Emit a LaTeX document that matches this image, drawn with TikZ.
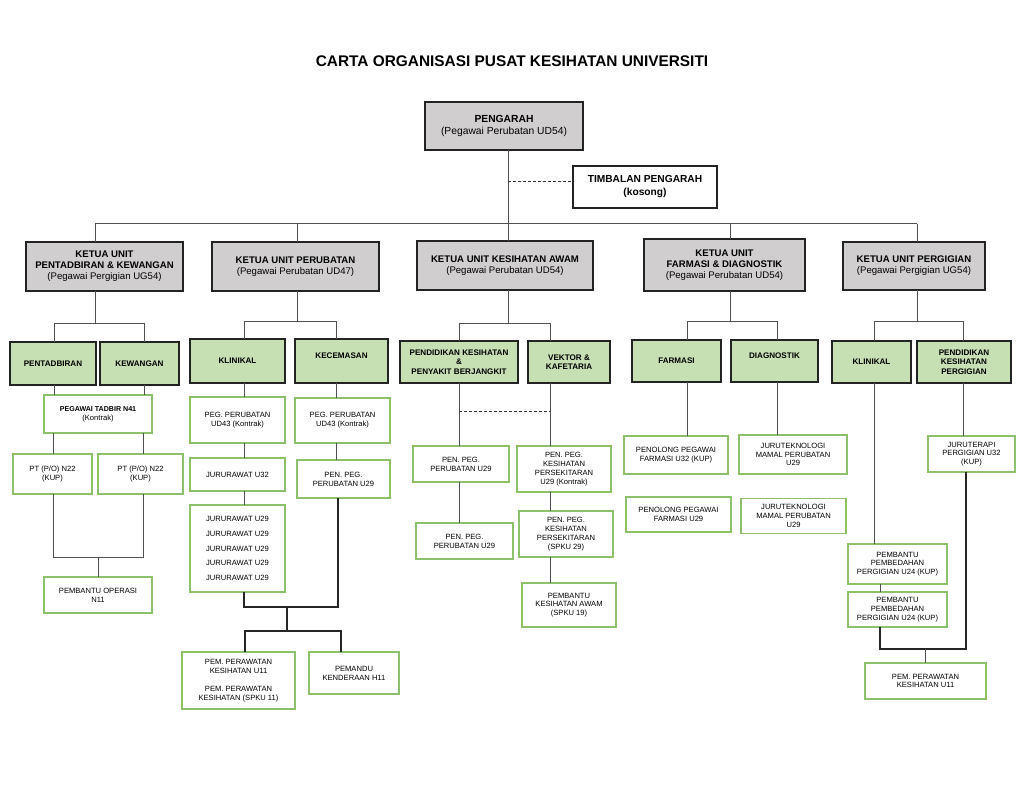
\documentclass[tikz,border=0pt]{standalone}
\usepackage{fontspec}
\setmainfont{Liberation Sans}
\usetikzlibrary{calc}
\definecolor{greyfill}{RGB}{208,206,206}
\definecolor{greenfill}{RGB}{198,224,180}
\definecolor{greenline}{RGB}{140,192,105}
\definecolor{boxline}{RGB}{35,35,35}
\definecolor{connc}{RGB}{80,80,80}
\begin{document}
\begin{tikzpicture}[x=1pt,y=-1pt,
 conn/.style={draw=connc, line width=1pt},
 connd/.style={draw=black!85, line width=1.2pt},
 dashline/.style={draw=black!80, line width=1pt, dash pattern=on 3pt off 2pt},
 base/.style={rectangle, inner sep=0pt, outer sep=0pt, align=center, text=black},
 topbox/.style={base, draw=boxline, line width=1.7pt, fill=greyfill, font=\fontsize{10.3}{12}\selectfont},
 deputybox/.style={base, draw=boxline, line width=1.6pt, fill=white, font=\fontsize{10.2}{13}\selectfont\bfseries},
 headbox/.style={base, draw=boxline, line width=1.7pt, fill=greyfill, font=\fontsize{9.6}{11}\selectfont},
 unitbox/.style={base, draw=boxline, line width=1.6pt, fill=greenfill, font=\fontsize{8.1}{9.5}\selectfont\bfseries},
 raised/.style={text depth=10pt},
 staffbox/.style={base, draw=greenline, line width=1.5pt, fill=white, font=\fontsize{7.6}{8.8}\selectfont},
 wh/.style 2 args={minimum width=#1pt, minimum height=#2pt}
]
\fill[white] (0,0) rectangle (1024,791);
\useasboundingbox (0,0) rectangle (1024,791);

% title
\node[font=\fontsize{15.4}{18}\selectfont\bfseries] (title) at (512,61.5) {CARTA ORGANISASI PUSAT KESIHATAN UNIVERSITI};

% top level
\node[topbox, wh={158}{48}] (pengarah) at (504,126) {\textbf{PENGARAH}\\(Pegawai Perubatan UD54)};
\node[deputybox, wh={144}{42}] (timbalan) at (645,187) {TIMBALAN PENGARAH\\(kosong)};

% heads of units
\node[headbox, wh={157}{49}] (k1) at (104.5,266.5) {\textbf{KETUA UNIT}\\\textbf{PENTADBIRAN \& KEWANGAN}\\(Pegawai Pergigian UG54)};
\node[headbox, wh={167}{49}] (k2) at (295.5,266.5) {\textbf{KETUA UNIT PERUBATAN}\\(Pegawai Perubatan UD47)};
\node[headbox, wh={176}{49}] (k3) at (505,265.5) {\textbf{KETUA UNIT KESIHATAN AWAM}\\(Pegawai Perubatan UD54)};
\node[headbox, wh={161}{52}] (k4) at (724.5,265) {\textbf{KETUA UNIT}\\\textbf{FARMASI \& DIAGNOSTIK}\\(Pegawai Perubatan UD54)};
\node[headbox, wh={142}{48}] (k5) at (914,266) {\textbf{KETUA UNIT PERGIGIAN}\\(Pegawai Pergigian UG54)};

% sections
\node[unitbox, wh={86}{43}] (g1) at (53,363.5) {PENTADBIRAN};
\node[unitbox, wh={79}{43}] (g2) at (139.5,363.5) {KEWANGAN};
\node[unitbox, wh={95}{44}] (g3) at (237.5,361) {KLINIKAL};
\node[unitbox, raised, wh={93}{44}] (g4) at (341.5,361) {KECEMASAN};
\node[unitbox, wh={118}{42}] (g5) at (459,362) {PENDIDIKAN KESIHATAN\\\&\\PENYAKIT BERJANGKIT};
\node[unitbox, wh={82}{42}] (g6) at (569,362) {VEKTOR \&\\KAFETARIA};
\node[unitbox, wh={89}{42}] (g7) at (676.5,361) {FARMASI};
\node[unitbox, raised, wh={87}{42}] (g8) at (774.5,361) {DIAGNOSTIK};
\node[unitbox, wh={79}{42}] (g9) at (871.5,362) {KLINIKAL};
\node[unitbox, wh={94}{42}] (g10) at (964,362) {PENDIDIKAN\\KESIHATAN\\PERGIGIAN};

% staff - pentadbiran & kewangan
\node[staffbox, wh={108}{38}] (w1) at (98,414) {{\fontsize{7.1}{8.8}\selectfont\bfseries PEGAWAI TADBIR N41}\\(Kontrak)};
\node[staffbox, wh={79}{40}] (w2) at (52.5,474) {PT (P/O) N22\\(KUP)};
\node[staffbox, wh={85}{40}] (w3) at (140.5,474) {PT (P/O) N22\\(KUP)};
\node[staffbox, wh={108}{36}] (w4) at (98,595) {PEMBANTU OPERASI\\N11};

% staff - perubatan
\node[staffbox, wh={95}{46}] (w5) at (237.5,420) {PEG. PERUBATAN\\UD43 (Kontrak)};
\node[staffbox, wh={95}{33}] (w6) at (237.5,474.5) {JURURAWAT U32};
\node[staffbox, wh={95}{87}] (w7) at (237.5,548.5) {JURURAWAT U29\\[5.9pt]JURURAWAT U29\\[5.9pt]JURURAWAT U29\\[5.9pt]JURURAWAT U29\\[5.9pt]JURURAWAT U29};
\node[staffbox, wh={95}{45}] (w8) at (342.5,420.5) {PEG. PERUBATAN\\UD43 (Kontrak)};
\node[staffbox, wh={93}{38}] (w9) at (343.5,479) {PEN. PEG.\\PERUBATAN U29};
\node[staffbox, wh={113}{57}] (w10) at (238.5,680.5) {PEM. PERAWATAN\\KESIHATAN U11\\[9pt]PEM. PERAWATAN\\KESIHATAN (SPKU 11)};
\node[staffbox, wh={90}{42}] (w11) at (354,673) {PEMANDU\\KENDERAAN H11};

% staff - kesihatan awam
\node[staffbox, wh={96}{36}] (w12) at (461,464) {PEN. PEG.\\PERUBATAN U29};
\node[staffbox, wh={97}{36}] (w13) at (464.5,541) {PEN. PEG.\\PERUBATAN U29};
\node[staffbox, wh={94}{46}] (w14) at (564,469) {PEN. PEG.\\KESIHATAN\\PERSEKITARAN\\U29 (Kontrak)};
\node[staffbox, wh={94}{46}] (w15) at (566,534) {PEN. PEG.\\KESIHATAN\\PERSEKITARAN\\(SPKU 29)};
\node[staffbox, wh={94}{44}] (w16) at (569,605) {PEMBANTU\\KESIHATAN AWAM\\(SPKU 19)};

% staff - farmasi & diagnostik
\node[staffbox, wh={104}{38}] (w17) at (676,455) {PENOLONG PEGAWAI\\FARMASI U32 (KUP)};
\node[staffbox, wh={108}{39}] (w18) at (793,454.5) {JURUTEKNOLOGI\\MAMAL PERUBATAN\\U29};
\node[staffbox, wh={105}{35}] (w19) at (678.5,514.5) {PENOLONG PEGAWAI\\FARMASI U29};
\node[staffbox, wh={105}{35}] (w20) at (793.5,516) {JURUTEKNOLOGI\\MAMAL PERUBATAN\\U29};

% staff - pergigian
\node[staffbox, wh={87}{36}] (w21) at (971.5,454) {JURUTERAPI\\PERGIGIAN U32\\(KUP)};
\node[staffbox, wh={99}{40}] (w22) at (897.5,564) {PEMBANTU\\PEMBEDAHAN\\PERGIGIAN U24 (KUP)};
\node[staffbox, wh={99}{35}] (w23) at (897.5,609.5) {PEMBANTU\\PEMBEDAHAN\\PERGIGIAN U24 (KUP)};
\node[staffbox, wh={121}{36}] (w24) at (925.5,681) {PEM. PERAWATAN\\KESIHATAN U11};

% ---------- connectors ----------
\coordinate (bA) at (95,224);
\coordinate (bB) at (297,224);
\coordinate (bC) at (508,224);
\coordinate (bD) at (730,224);
\coordinate (bE) at (917,224);
\coordinate (dj) at (508,182);
\draw[conn] (pengarah.south -| bC) -- (bC);
\draw[dashline] (dj) -- (dj -| timbalan.west);
\draw[conn] (bA) -- (bE);
\foreach \b/\k in {bA/k1,bB/k2,bC/k3,bD/k4,bE/k5}
  \draw[conn] (\b) -- (\b |- \k.north);

% unit buses
\coordinate (sA) at (95,323);  \coordinate (sA1) at (54,323);  \coordinate (sA2) at (144,323);
\coordinate (sB) at (297,321); \coordinate (sB1) at (244,321); \coordinate (sB2) at (336,321);
\coordinate (sC) at (508,323); \coordinate (sC1) at (459,323); \coordinate (sC2) at (550,323);
\coordinate (sD) at (730,321); \coordinate (sD1) at (687,321); \coordinate (sD2) at (777,321);
\coordinate (sE) at (917,321); \coordinate (sE1) at (874,321); \coordinate (sE2) at (963,321);
\draw[conn] (k1.south -| sA) -- (sA);
\draw[conn] (sA1 |- g1.north) -- (sA1) -- (sA2) -- (sA2 |- g2.north);
\draw[conn] (k2.south -| sB) -- (sB);
\draw[conn] (sB1 |- g3.north) -- (sB1) -- (sB2) -- (sB2 |- g4.north);
\draw[conn] (k3.south -| sC) -- (sC);
\draw[conn] (sC1 |- g5.north) -- (sC1) -- (sC2) -- (sC2 |- g6.north);
\draw[conn] (k4.south -| sD) -- (sD);
\draw[conn] (sD1 |- g7.north) -- (sD1) -- (sD2) -- (sD2 |- g8.north);
\draw[conn] (k5.south -| sE) -- (sE);
\draw[conn] (sE1 |- g9.north) -- (sE1) -- (sE2) -- (sE2 |- g10.north);

% pentadbiran & kewangan
\coordinate (cA) at (98,557); \coordinate (cA1) at (53,557); \coordinate (cA2) at (143,557);
\draw[conn] (sA1 |- g1.south) -- (sA1 |- w1.north);
\draw[conn] (sA2 |- g2.south) -- (sA2 |- w1.north);
\draw[conn] (cA1 |- w1.south) -- (cA1 |- w2.north);
\draw[conn] (cA2 |- w1.south) -- (cA2 |- w3.north);
\draw[conn] (cA1 |- w2.south) -- (cA1) -- (cA2) -- (cA2 |- w3.south);
\draw[conn] (cA) -- (cA |- w4.north);

% perubatan
\coordinate (jB) at (287,607); \coordinate (jB1) at (244,607); \coordinate (jB2) at (338,607);
\coordinate (mB) at (287,631); \coordinate (mB1) at (245,631); \coordinate (mB2) at (341,631);
\draw[conn] (sB1 |- g3.south) -- (sB1 |- w5.north);
\draw[conn] (sB1 |- w5.south) -- (sB1 |- w6.north);
\draw[conn] (sB1 |- w6.south) -- (sB1 |- w7.north);
\draw[conn] (sB2 |- g4.south) -- (sB2 |- w8.north);
\draw[conn] (sB2 |- w8.south) -- (sB2 |- w9.north);
\draw[connd] (jB1 |- w7.south) -- (jB1) -- (jB2) -- (jB2 |- w9.south);
\draw[connd] (jB) -- (mB);
\draw[connd] (mB1 |- w10.north) -- (mB1) -- (mB2) -- (mB2 |- w11.north);

% kesihatan awam
\coordinate (dC1) at (459,411); \coordinate (dC2) at (550,411);
\draw[conn] (sC1 |- g5.south) -- (sC1 |- w12.north);
\draw[conn] (sC2 |- g6.south) -- (sC2 |- w14.north);
\draw[dashline] (dC1) -- (dC2);
\draw[conn] (sC1 |- w12.south) -- (sC1 |- w13.north);
\draw[conn] (sC2 |- w14.south) -- (sC2 |- w15.north);
\draw[conn] (sC2 |- w15.south) -- (sC2 |- w16.north);

% farmasi & diagnostik
\draw[conn] (sD1 |- g7.south) -- (sD1 |- w17.north);
\draw[conn] (sD2 |- g8.south) -- (sD2 |- w18.north);

% pergigian
\coordinate (pE) at (925,649); \coordinate (pE1) at (880,649); \coordinate (pE2) at (966,649);
\draw[conn] (sE1 |- g9.south) -- (sE1 |- w22.north);
\draw[conn] (sE2 |- g10.south) -- (sE2 |- w21.north);
\draw[conn] (pE1 |- w22.south) -- (pE1 |- w23.north);
\draw[connd] (pE1 |- w23.south) -- (pE1) -- (pE2) -- (pE2 |- w21.south);
\draw[conn] (pE) -- (pE |- w24.north);
\end{tikzpicture}
\end{document}
